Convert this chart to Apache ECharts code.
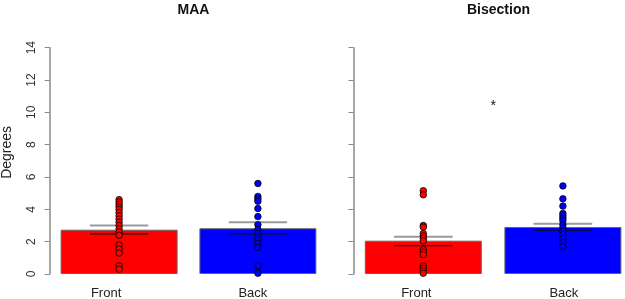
<!DOCTYPE html>
<html>
<head>
<meta charset="utf-8">
<script src="https://cdn.jsdelivr.net/npm/echarts@6/dist/echarts.min.js"></script>
<style>html,body{margin:0;padding:0;background:#fff}#c{width:625px;height:299px}</style>
</head>
<body>
<div id="c"></div>
<script>
const categories = ['Front', 'Back'];
const panelTitles = ['MAA', 'Bisection'];
const yAxisName = 'Degrees';
const yMin = 0, yMax = 14, yInterval = 2;

const maaMeans = [2.74, 2.83];
const maaUpper = [3.0, 3.2];
const maaLower = [2.48, 2.48];
const maaFront = [4.6, 4.45, 4.3, 4.15, 4.0, 3.8, 3.6, 3.4, 3.2, 3.0, 2.8, 2.6, 2.4, 1.8, 1.55, 1.3, 0.5, 0.3];
const maaBack = [5.6, 4.8, 4.65, 4.5, 4.05, 3.55, 3.05, 2.75, 2.5, 2.3, 2.1, 1.9, 1.65, 0.5, 0.05];

const bisMeans = [2.06, 2.91];
const bisUpper = [2.3, 3.11];
const bisLower = [1.75, 2.72];
const bisFront = [5.15, 4.9, 3.0, 2.9, 2.5, 2.35, 2.2, 2.05, 1.5, 1.35, 1.2, 0.5, 0.35, 0.2, 0.05];
const bisBack = [5.45, 4.65, 4.2, 3.75, 3.6, 3.45, 3.3, 3.05, 2.85, 2.65, 2.45, 2.2, 1.95, 1.7];

const starMark = { text: '*', value: 10.4 };

const barColors = ['#ff0000', '#0000ff'];

const chart = echarts.init(document.getElementById('c'), null, { renderer: 'canvas' });

// label shifts (px) per panel per category
const labelShift = [[-13, -5], [-7, 1]];

function xAxisFor(i) {
  const rich = {};
  categories.forEach((c, k) => {
    const s = labelShift[i][k];
    rich['l' + k] = {
      fontSize: 13, color: '#222', fontFamily: 'Liberation Sans, Arial, sans-serif',
      padding: s < 0 ? [0, -2 * s, 0, 0] : [0, 0, 0, 2 * s]
    };
  });
  return {
    type: 'category', gridIndex: i, data: categories,
    axisLine: { show: false }, axisTick: { show: false }, splitLine: { show: false },
    axisLabel: {
      margin: 13, interval: 0,
      formatter: (v) => '{l' + categories.indexOf(v) + '|' + v + '}',
      rich: rich
    }
  };
}

function yAxisFor(i) {
  return {
    type: 'value', gridIndex: i, min: yMin, max: yMax, interval: yInterval,
    name: i === 0 ? yAxisName : '',
    nameLocation: 'middle', nameGap: 36,
    nameTextStyle: { fontSize: 14, color: '#222', fontFamily: 'Liberation Sans, Arial, sans-serif', padding: [0, 0, 0, 17] },
    axisLine: { show: true, lineStyle: { color: '#8a8a8a', width: 1.5 } },
    axisTick: { show: true, length: 5, lineStyle: { color: '#8a8a8a' } },
    splitLine: { show: false },
    axisLabel: {
      show: i === 0, rotate: 90, margin: 12, fontSize: 12, color: '#333',
      fontFamily: 'Liberation Sans, Arial, sans-serif'
    }
  };
}

function errRender(upper, lower) {
  return function (params, api) {
    const idx = api.value(0);
    const half = api.size([1, 0])[0] * 0.21;
    const pu = api.coord([idx, upper[idx]]);
    const pl = api.coord([idx, lower[idx]]);
    return {
      type: 'group',
      children: [
        { type: 'line', shape: { x1: pu[0] - half, y1: pu[1], x2: pu[0] + half, y2: pu[1] }, style: { stroke: '#9a9a9a', lineWidth: 2 } },
        { type: 'line', shape: { x1: pl[0] - half, y1: pl[1], x2: pl[0] + half, y2: pl[1] }, style: { stroke: '#111', lineWidth: 1.3 } }
      ]
    };
  };
}

function panelSeries(i, means, upper, lower, front, back) {
  const s = [];
  s.push({
    type: 'bar', xAxisIndex: i, yAxisIndex: i, barWidth: 117,
    data: means.map((v, k) => ({ value: v, itemStyle: { color: barColors[k] } })),
    itemStyle: { borderColor: '#666', borderWidth: 1 },
    silent: true, z: 1
  });
  s.push({
    type: 'custom', xAxisIndex: i, yAxisIndex: i,
    data: categories.map((c, k) => [k]),
    renderItem: errRender(upper, lower), z: 3, silent: true
  });
  [front, back].forEach((arr, k) => {
    s.push({
      type: 'scatter', xAxisIndex: i, yAxisIndex: i,
      data: arr.map(v => [k, v]),
      symbol: 'circle', symbolSize: 6.5,
      itemStyle: { color: barColors[k], borderColor: '#000', borderWidth: 0.8, opacity: 1 },
      z: 4, silent: true, clip: true
    });
  });
  return s;
}

const series = []
  .concat(panelSeries(0, maaMeans, maaUpper, maaLower, maaFront, maaBack))
  .concat(panelSeries(1, bisMeans, bisUpper, bisLower, bisFront, bisBack));

series.push({
  type: 'custom', xAxisIndex: 1, yAxisIndex: 1,
  data: [[0, starMark.value]],
  renderItem: function (params, api) {
    const a = api.coord([0, api.value(1)]);
    const b = api.coord([1, api.value(1)]);
    return {
      type: 'text',
      style: { text: starMark.text, x: (a[0] + b[0]) / 2, y: a[1], align: 'center', verticalAlign: 'middle',
        fontSize: 14, fill: '#111', fontFamily: 'Liberation Sans, Arial, sans-serif' }
    };
  },
  z: 5, silent: true
});

chart.setOption({
  animation: false,
  backgroundColor: '#fff',
  title: [
    { text: panelTitles[0], left: 188.5, top: -2, textAlign: 'center',
      textStyle: { fontSize: 14, fontWeight: 'bold', color: '#111', fontFamily: 'Liberation Sans, Arial, sans-serif' } },
    { text: panelTitles[1], left: 493.5, top: -2, textAlign: 'center',
      textStyle: { fontSize: 14, fontWeight: 'bold', color: '#111', fontFamily: 'Liberation Sans, Arial, sans-serif' } }
  ],
  grid: [
    { left: 49.7, width: 277.6, top: 47.7, height: 226.3, containLabel: false, outerBoundsMode: 'none' },
    { left: 353.5, width: 279.2, top: 47.7, height: 226.3, containLabel: false, outerBoundsMode: 'none' }
  ],
  xAxis: [xAxisFor(0), xAxisFor(1)],
  yAxis: [yAxisFor(0), yAxisFor(1)],
  series: series
});
</script>
</body>
</html>
